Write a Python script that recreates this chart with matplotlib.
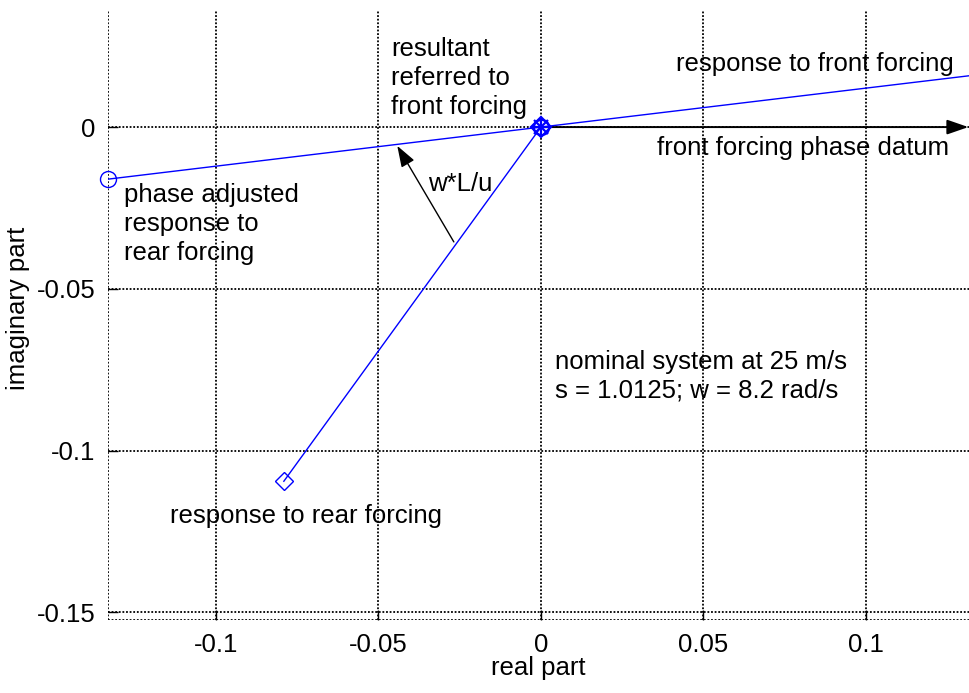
import matplotlib
matplotlib.use("Agg")
import matplotlib.pyplot as plt

plt.rcParams['font.family'] = ['Liberation Sans', 'DejaVu Sans']

# Complex responses (real, imaginary)
front_response = (0.1345, 0.0162)
rear_response = (-0.0791, -0.1095)
rear_adjusted = (-0.1332, -0.0161)
resultant = (0.0, 0.0)

x_ticks = [-0.1, -0.05, 0, 0.05, 0.1]
x_tick_labels = ['-0.1', '-0.05', '0', '0.05', '0.1']
y_ticks = [-0.15, -0.1, -0.05, 0]
y_tick_labels = ['-0.15', '-0.1', '-0.05', '0']

# phase-rotation arrow w*L/u (tail on rear line, head on front line)
rot_tail = (-0.0268, -0.0355)
rot_head = (-0.0442, -0.0058)
datum_end = (0.1315, 0.0)

W, H = 969, 693
fig = plt.figure(figsize=(W / 100, H / 100), dpi=100)
ax = fig.add_axes([108 / W, 1 - 620 / H, 1 - 108 / W, (620 - 10) / H])

blue = (0, 0, 1)
dot = (0, (1, 1))
x0, x1 = -0.1332, 0.1317
y0, y1 = -0.1524, 0.0362

ax.set_xlim(x0, x1)
ax.set_ylim(y0, y1)

for xv in x_ticks + [x0]:
    ax.axvline(xv, color='k', lw=1.3, ls=dot, zorder=1)
for yv in y_ticks + [y0]:
    ax.axhline(yv, color='k', lw=1.3, ls=dot, zorder=1)

# front response line through the resultant
ax.plot([resultant[0], front_response[0]], [resultant[1], front_response[1]],
        color=blue, lw=1, zorder=3)
# phase-adjusted rear response
ax.plot([resultant[0], rear_adjusted[0]], [resultant[1], rear_adjusted[1]],
        color=blue, lw=1, zorder=3)
ax.plot(rear_adjusted[0], rear_adjusted[1], marker='o', ms=11.5, mfc='none',
        mec=blue, mew=1, zorder=4, clip_on=False)
# rear response
ax.plot([resultant[0], rear_response[0]], [resultant[1], rear_response[1]],
        color=blue, lw=1, zorder=3)
ax.plot(rear_response[0], rear_response[1], marker='D', ms=9.5, mfc='none',
        mec=blue, mew=1, zorder=4)
# resultant markers
for m, s in [('o', 11), ('D', 10), ('+', 13), ('x', 10)]:
    ax.plot(resultant[0], resultant[1], marker=m, ms=s, mfc='none',
            mec=blue, mew=1.6, zorder=5)

# phase datum arrow
ax.annotate('', xy=datum_end, xytext=resultant,
            arrowprops=dict(arrowstyle='-|>,head_length=1.3,head_width=0.45',
                            color='k', lw=1.4, shrinkA=0, shrinkB=0),
            zorder=2)
# rotation arrow
ax.annotate('', xy=rot_head, xytext=rot_tail,
            arrowprops=dict(arrowstyle='-|>,head_length=1.3,head_width=0.45',
                            color='k', lw=1.0, shrinkA=0, shrinkB=0),
            zorder=2)

fs = 18.5
ls = 1.27
def px(xp, yp):
    return ((xp - 541) / 3250.0, (127 - yp) / 3234.0)

ax.text(*px(391, 78), 'resultant\nreferred to\nfront forcing', fontsize=fs,
        ha='left', va='center', linespacing=ls)
ax.text(*px(676, 64), 'response to front forcing', fontsize=fs,
        ha='left', va='center')
ax.text(*px(657, 148), 'front forcing phase datum', fontsize=fs,
        ha='left', va='center')
ax.text(*px(124, 224), 'phase adjusted\nresponse to\nrear forcing', fontsize=fs,
        ha='left', va='center', linespacing=ls)
ax.text(*px(428, 184), 'w*L/u', fontsize=fs, ha='left', va='center')
ax.text(*px(555, 376), 'nominal system at 25 m/s\ns = 1.0125; w = 8.2 rad/s',
        fontsize=fs, ha='left', va='center', linespacing=ls)
ax.text(*px(170, 516), 'response to rear forcing', fontsize=fs,
        ha='left', va='center')

ax.set_xticks(x_ticks)
ax.set_xticklabels(x_tick_labels)
ax.set_yticks(y_ticks)
ax.set_yticklabels(y_tick_labels)
ax.tick_params(direction='in', length=7, width=1, labelsize=fs, pad=9)
ax.set_xlabel('real part', fontsize=fs, labelpad=0)
ax.set_ylabel('imaginary part', fontsize=fs, va='center')
ax.yaxis.set_label_coords((18 - 108) / 861, (620 - 308) / 610)

for side in ax.spines:
    ax.spines[side].set_visible(False)

fig.savefig('out.png', dpi=100)
